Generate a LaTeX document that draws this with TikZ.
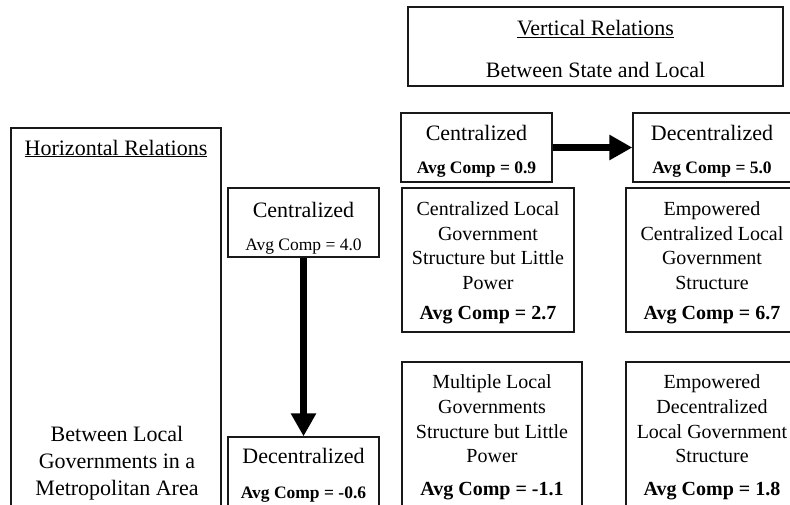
\documentclass[tikz,border=0pt]{standalone}
\usepackage{fontspec}
\setmainfont{Liberation Serif}
\usetikzlibrary{arrows.meta}
\begin{document}
\begin{tikzpicture}[x=1pt,y=-1pt,
  box/.style={draw=black!90, line width=1.3pt, inner sep=0pt},
  head/.style={font=\fontsize{22}{26}\selectfont, inner sep=0pt, anchor=base},
  headml/.style={font=\fontsize{22}{27}\selectfont, inner sep=0pt, align=center, anchor=center},
  desc/.style={font=\fontsize{20}{24.6}\selectfont, inner sep=0pt, align=center, anchor=center},
  avgsmall/.style={font=\fontsize{17.5}{20}\selectfont, inner sep=0pt, anchor=base},
  avgbig/.style={font=\fontsize{20}{24}\selectfont\bfseries, inner sep=0pt, anchor=base},
  bigarrow/.style={line width=7pt, -{Triangle[length=23pt,width=24pt]}}]
\useasboundingbox (0,0) rectangle (790,504);
\fill[white] (0,0) rectangle (790,504);
\begin{scope}
\clip (0,0) rectangle (790,504);
% boxes
\node[box, minimum width=375pt, minimum height=79pt] (vert) at (595.5,46.5) {};
\node[box, minimum width=210pt, minimum height=392pt] (horiz) at (116,324) {};
\node[box, minimum width=151pt, minimum height=69pt] (hc) at (303.5,222.5) {};
\node[box, minimum width=151pt, minimum height=75pt] (hd) at (303.5,474.5) {};
\node[box, minimum width=151pt, minimum height=69pt] (vc) at (476.5,147.5) {};
\node[box, minimum width=162pt, minimum height=69pt] (vd) at (714,147.5) {};
\node[box, minimum width=172pt, minimum height=144pt] (cl) at (488,260) {};
\node[box, minimum width=172pt, minimum height=144pt] (ec) at (712,260) {};
\node[box, minimum width=180pt, minimum height=150pt] (ml) at (492,437) {};
\node[box, minimum width=172pt, minimum height=150pt] (ed) at (712,437) {};
% texts
\node[head] (tvr) at (595.5,35) {\underline{Vertical Relations}};
\node[head] (tbs) at (595.5,77) {Between State and Local};
\node[head] (thr) at (116,155) {\underline{Horizontal Relations}};
\node[headml] (tbl) at (117,463.5) {Between Local\\Governments in a\\Metropolitan Area};
\node[head] (thc) at (303.5,217) {Centralized};
\node[avgsmall] (ahc) at (303.5,250) {Avg Comp = 4.0};
\node[head] (thd) at (303.5,463) {Decentralized};
\node[avgsmall, font=\fontsize{17.5}{20}\selectfont\bfseries] (ahd) at (303.5,498) {Avg Comp = -0.6};
\node[head] (tvc) at (476.5,140) {Centralized};
\node[avgsmall, font=\fontsize{17.5}{20}\selectfont\bfseries] (avc) at (476.5,173) {Avg Comp = 0.9};
\node[head] (tvd) at (712,140) {Decentralized};
\node[avgsmall, font=\fontsize{17.5}{20}\selectfont\bfseries] (avd) at (712,173) {Avg Comp = 5.0};
\node[desc] (tcl) at (488,245.5) {Centralized Local\\Government\\Structure but Little\\Power};
\node[avgbig] (acl) at (488,319) {Avg Comp = 2.7};
\node[desc] (tec) at (712,245.5) {Empowered\\Centralized Local\\Government\\Structure};
\node[avgbig] (aec) at (712,319) {Avg Comp = 6.7};
\node[desc] (tml) at (492,419) {Multiple Local\\Governments\\Structure but Little\\Power};
\node[avgbig] (aml) at (492,495) {Avg Comp = -1.1};
\node[desc] (ted) at (712,419) {Empowered\\Decentralized\\Local Government\\Structure};
\node[avgbig] (aed) at (712,495) {Avg Comp = 1.8};
% arrows
\draw[bigarrow] (vc) -- (vd);
\draw[bigarrow] (hc) -- (hd);
\end{scope}
\end{tikzpicture}
\end{document}
